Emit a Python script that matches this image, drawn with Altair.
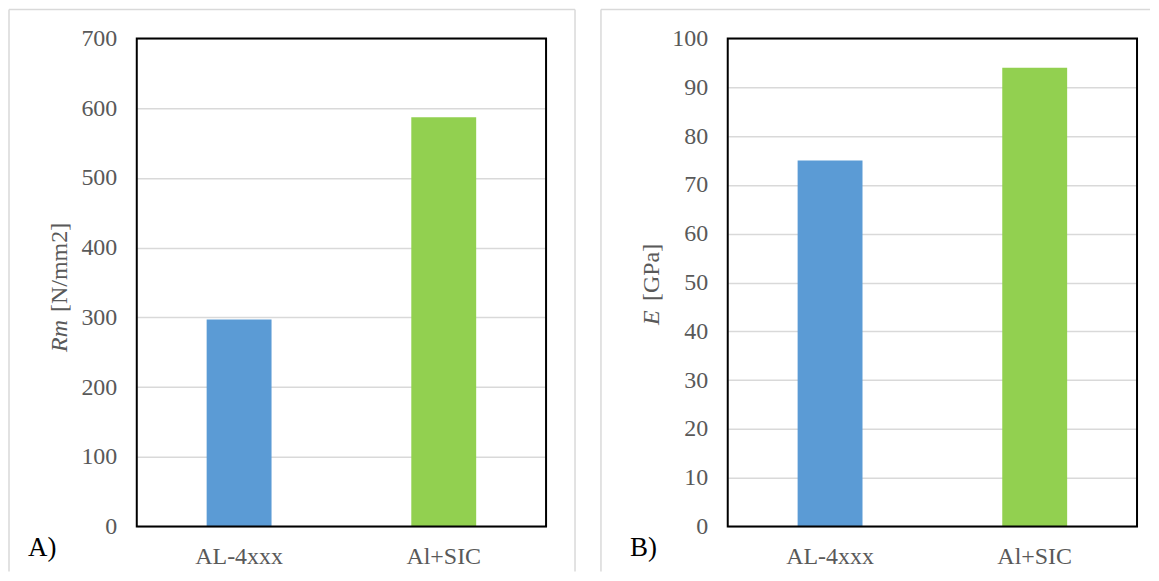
import altair as alt
import pandas as pd

# ---- data ----
categories = ["AL-4xxx", "Al+SIC"]
rm_values = [297, 587]
e_values = [75, 94]
bar_colors = ["#5B9BD5", "#92D050"]
rm_ticks = [0, 100, 200, 300, 400, 500, 600, 700]
e_ticks = [0, 10, 20, 30, 40, 50, 60, 70, 80, 90, 100]

FONT = "Liberation Serif, Times New Roman, serif"
LABEL_COLOR = "#595959"
GRID = "#d9d9d9"
W, H = 410, 489


def panel(values, ticks, ymax, t_italic, t_rest, letter,
          title_x, italic_y, rest_y, letter_x,
          left_edge, right_edge, draw_right):
    df = pd.DataFrame({"cat": categories, "val": values})
    bars = alt.Chart(df).mark_bar(size=65).encode(
        x=alt.X("cat:N", sort=categories,
                scale=alt.Scale(paddingInner=0, paddingOuter=0),
                axis=alt.Axis(title=None, labelAngle=0, ticks=False, domain=False,
                              grid=False, labelFontSize=24, labelFont=FONT,
                              labelColor=LABEL_COLOR, labelPadding=18)),
        y=alt.Y("val:Q", scale=alt.Scale(domain=[0, ymax], nice=False),
                axis=alt.Axis(title=None, values=ticks, grid=True, gridColor=GRID,
                              gridWidth=1.5, ticks=False, domain=False,
                              labelFontSize=24, labelFont=FONT,
                              labelColor=LABEL_COLOR, labelPadding=20)),
        color=alt.Color("cat:N", scale=alt.Scale(domain=categories, range=bar_colors),
                        legend=None),
    )
    frame = alt.Chart(pd.DataFrame({"t": [0]})).mark_rect(
        fill="transparent", stroke="black", strokeWidth=2
    ).encode(x=alt.value(0), x2=alt.value(W), y=alt.value(0), y2=alt.value(H))
    t1 = alt.Chart(pd.DataFrame({"t": [t_italic]})).mark_text(
        angle=270, align="left", baseline="middle", font=FONT, fontSize=24,
        fontStyle="italic", color=LABEL_COLOR
    ).encode(x=alt.value(title_x), y=alt.value(italic_y), text="t:N")
    t2 = alt.Chart(pd.DataFrame({"t": [t_rest]})).mark_text(
        angle=270, align="left", baseline="middle", font=FONT, fontSize=24,
        color=LABEL_COLOR
    ).encode(x=alt.value(title_x), y=alt.value(rest_y), text="t:N")
    lt = alt.Chart(pd.DataFrame({"t": [letter]})).mark_text(
        align="left", baseline="middle", font=FONT, fontSize=27, color="black"
    ).encode(x=alt.value(letter_x), y=alt.value(510), text="t:N")

    # light grey panel border (decoration)
    top = alt.Chart(pd.DataFrame({"t": [0]})).mark_rule(color=GRID, strokeWidth=1.5).encode(
        x=alt.value(left_edge), x2=alt.value(right_edge), y=alt.value(-29))
    left = alt.Chart(pd.DataFrame({"t": [0]})).mark_rule(color=GRID, strokeWidth=1.5).encode(
        x=alt.value(left_edge), y=alt.value(-29), y2=alt.value(534))
    layers = [top, left, bars, frame, t1, t2, lt]
    if draw_right:
        right = alt.Chart(pd.DataFrame({"t": [0]})).mark_rule(color=GRID, strokeWidth=1.5).encode(
            x=alt.value(right_edge), y=alt.value(-29), y2=alt.value(534))
        layers.insert(2, right)
    return alt.layer(*layers).properties(width=W, height=H)


left_chart = panel(rm_values, rm_ticks, 700, "Rm", "[N/mm2]", "A)",
                   -77, 314, 274, -109, -128, 439, True)
right_chart = panel(e_values, e_ticks, 100, "E", "[GPa]", "B)",
                    -76, 287, 263, -98, -127, 423, False)

chart = alt.hconcat(left_chart, right_chart, spacing=24).properties(
    padding=0, background="white"
).configure_view(stroke=None)

chart.save("out.html", embed_options={"renderer": "svg", "actions": False})
